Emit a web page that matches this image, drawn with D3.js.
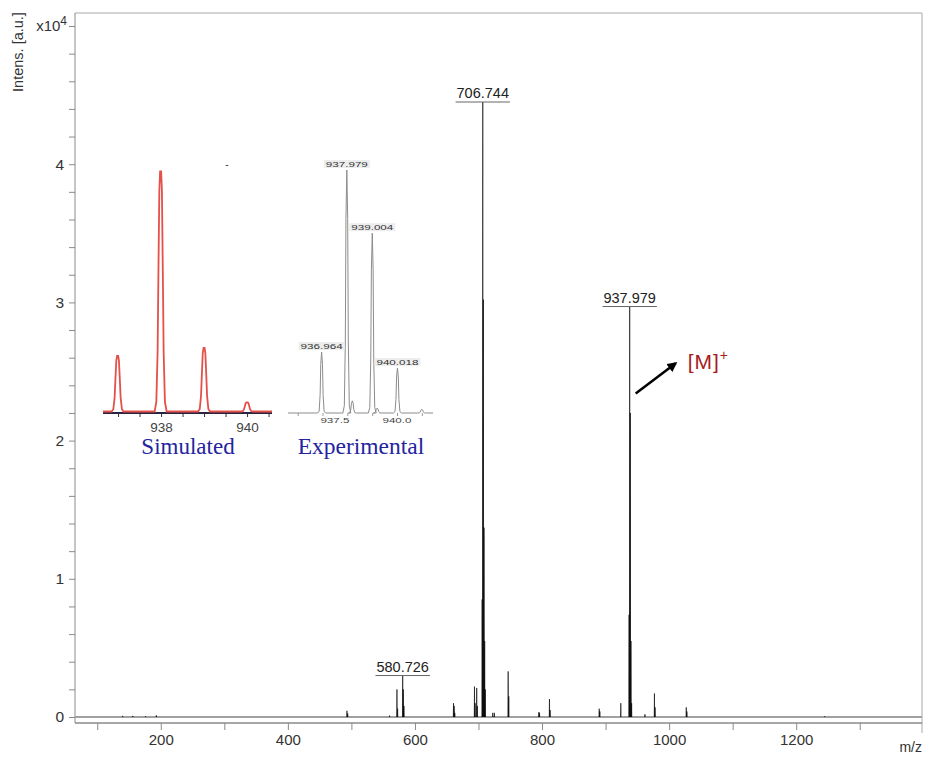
<!DOCTYPE html>
<html>
<head>
<meta charset="utf-8">
<script src="https://cdn.jsdelivr.net/npm/d3@7/dist/d3.min.js"></script>
<style>
  body { margin: 0; background: #fff; }
  svg { font-family: "Liberation Sans", Arial, sans-serif; }
</style>
</head>
<body>
<div id="graph"></div>
<script>
// Espectro principal: m/z e intensidad (x10^4)
var peakMz = [140, 156, 176, 193, 493, 494.2, 560, 571.7, 572.7, 580.726, 581.7, 582.7,
  660.7, 661.7, 662.7, 693.7, 694.7, 697.2, 698.2, 705.74, 706.744, 707.745, 708.75,
  709.75, 710.75, 722.5, 725, 746.7, 747.7, 795, 796, 811.7, 812.7, 890, 891, 924,
  936.964, 937.979, 939.004, 940.018, 941.0, 962, 976.9, 977.9, 1027, 1028, 1245];
var peakIntens = [0.008, 0.008, 0.006, 0.012, 0.045, 0.025, 0.01, 0.2, 0.06, 0.30, 0.2, 0.08,
  0.10, 0.08, 0.03, 0.22, 0.1, 0.21, 0.08, 0.85, 4.45, 3.02, 1.37, 0.55, 0.2, 0.03, 0.03,
  0.33, 0.15, 0.035, 0.03, 0.13, 0.05, 0.06, 0.04, 0.10,
  0.74, 2.97, 2.2, 0.55, 0.1, 0.02, 0.17, 0.07, 0.07, 0.04, 0.005];

// Etiquetas de picos
var labelMz = [580.726, 706.744, 937.979];
var labelText = ["580.726", "706.744", "937.979"];

// Ticks de ejes
var xTickValues = [100, 200, 300, 400, 500, 600, 700, 800, 900, 1000, 1100, 1200, 1300];
var xTickLabels = [200, 400, 600, 800, 1000, 1200];
var yTickLabels = [0, 1, 2, 3, 4];

// Inset simulado (intensidad relativa %)
var simMz = [936.99, 937.99, 939.0, 940.0];
var simIntens = [23.2, 100, 26.5, 3.8];
var simTickLabels = [938, 940];

// Inset experimental (intensidad relativa %)
var expMz = [936.964, 937.979, 938.2, 939.004, 939.2, 940.018, 941.0];
var expIntens = [25.1, 100, 5, 74, 2, 18.5, 1.5];
var expLabelMz = [936.964, 937.979, 939.004, 940.018];
var expLabelText = ["936.964", "937.979", "939.004", "940.018"];
var expTickLabels = ["937.5", "940.0"];

var width = 925, height = 757;
var svg = d3.select("#graph").append("svg")
  .attr("width", width)
  .attr("height", height);

var xScale = d3.scaleLinear().domain([65, 1398]).range([75, 922]);
var yScale = d3.scaleLinear().domain([0, 5.094]).range([717, 13]);

// Marco
svg.append("line").attr("x1", 75).attr("x2", 922).attr("y1", 13).attr("y2", 13)
  .style("stroke", "#a8a8a8");
svg.append("line").attr("x1", 922).attr("x2", 922).attr("y1", 13).attr("y2", 733)
  .style("stroke", "#a8a8a8");
svg.append("line").attr("x1", 75).attr("x2", 75).attr("y1", 13).attr("y2", 723)
  .style("stroke", "#8a8a8a");
svg.append("line").attr("x1", 75).attr("x2", 922).attr("y1", 723).attr("y2", 723)
  .style("stroke", "#8a8a8a").style("stroke-width", 1.5);

// Eje X
var gx = svg.append("g")
  .attr("transform", "translate(0,723)")
  .call(
    d3.axisBottom(xScale)
    .tickValues(xTickValues)
    .tickSize(7)
    .tickSizeOuter(0)
    .tickFormat(function(d){ return xTickLabels.indexOf(d) >= 0 ? d : ""; })
  );
gx.select(".domain").remove();
gx.selectAll(".tick line").style("stroke", "#8a8a8a");
gx.selectAll(".tick text").attr("y", 11).style("font-size", "15px").style("fill", "#333")
  .style("font-family", "'Liberation Sans', Arial, sans-serif");

svg.append("text").attr("x", 922).attr("y", 752).attr("text-anchor", "end")
  .style("font-size", "14px").style("fill", "#333").text("m/z");

// Eje Y
var yTickValues = d3.range(26).map(function(i){ return Math.round(i * 2) / 10; });
var gy = svg.append("g")
  .attr("transform", "translate(75,0)")
  .call(
    d3.axisLeft(yScale)
    .tickValues(yTickValues)
    .tickSize(6)
    .tickSizeOuter(0)
    .tickFormat(function(d){ return yTickLabels.indexOf(d) >= 0 ? d : ""; })
  );
gy.select(".domain").remove();
gy.selectAll(".tick line").style("stroke", "#8a8a8a");
gy.selectAll(".tick text").attr("x", -11).style("font-size", "15.5px").style("fill", "#333")
  .style("font-family", "'Liberation Sans', Arial, sans-serif");

var expo = svg.append("text").attr("x", 67).attr("y", yScale(5) + 5).attr("text-anchor", "end")
  .style("font-size", "15px").style("fill", "#333");
expo.append("tspan").text("x10");
expo.append("tspan").attr("dy", -6).style("font-size", "12px").text("4");

svg.append("text")
  .attr("transform", "translate(23,52) rotate(-90)")
  .attr("text-anchor", "middle")
  .style("font-size", "14.5px").style("fill", "#333")
  .text("Intens. [a.u.]");

// Linea base del espectro
svg.append("line").attr("x1", 75).attr("x2", 922).attr("y1", yScale(0)).attr("y2", yScale(0))
  .style("stroke", "#a0a0a0").style("stroke-width", 2);

// Picos
var halfW = 0.35;
var peakLine = d3.line()
  .x(function(d){ return xScale(d[0]); })
  .y(function(d){ return yScale(d[1]); });

var peaks = peakMz.map(function(m, i){ return {mz: m, h: peakIntens[i]}; });
svg.append("g").selectAll("path")
  .data(peaks)
  .enter().append("path")
  .attr("d", function(d){ return peakLine([[d.mz - halfW, 0], [d.mz, d.h], [d.mz + halfW, 0]]); })
  .style("fill", "#000")
  .style("fill-opacity", 0.6)
  .style("stroke", "#000")
  .style("stroke-opacity", 0.6)
  .style("stroke-width", 1);

// Etiquetas con subrayado
labelMz.forEach(function(m, i){
  var h = peakIntens[peakMz.indexOf(m)];
  var px = xScale(m), py = yScale(h);
  var t = svg.append("text").attr("x", px).attr("y", py - 4)
    .attr("text-anchor", "middle")
    .style("font-size", "14.5px").style("fill", "#222")
    .text(labelText[i]);
  var bb = t.node().getBBox();
  svg.append("line").attr("x1", bb.x - 1).attr("x2", bb.x + bb.width + 1)
    .attr("y1", py).attr("y2", py).style("stroke", "#666");
});

// Anotacion [M]+
var mPeak = 937.979;
var defs = svg.append("defs");
defs.append("marker").attr("id", "arrow")
  .attr("viewBox", "0 0 10 10").attr("refX", 8).attr("refY", 5)
  .attr("markerWidth", 4).attr("markerHeight", 4).attr("orient", "auto")
  .append("path").attr("d", "M0,0 L10,5 L0,10 z").style("fill", "#000");
svg.append("line")
  .attr("x1", xScale(mPeak) + 6).attr("y1", yScale(2.34))
  .attr("x2", xScale(mPeak) + 46).attr("y2", yScale(2.56))
  .style("stroke", "#000").style("stroke-width", 2.5)
  .attr("marker-end", "url(#arrow)");
var mt = svg.append("text").attr("x", xScale(mPeak) + 58).attr("y", yScale(2.56) + 6)
  .style("font-size", "21px").style("fill", "#a51d1d").style("letter-spacing", "1px");
mt.append("tspan").text("[M]");
mt.append("tspan").attr("dy", -9).style("font-size", "14px").text("+");

// ---- Inset simulado ----
var sx = d3.scaleLinear().domain([936.65, 940.58]).range([103, 272]);
var sy = d3.scaleLinear().domain([0, 100]).range([411.5, 171.5]);
var simShape = [[-0.14,0],[-0.1,0.04],[-0.07,0.25],[-0.05,0.6],[-0.03,0.92],[-0.012,1],
  [0.012,1],[0.03,0.92],[0.05,0.6],[0.07,0.25],[0.1,0.04],[0.14,0]];

svg.append("line").attr("x1", 103).attr("x2", 272).attr("y1", 413).attr("y2", 413)
  .style("stroke", "#2a2440").style("stroke-width", 2);
var gs = svg.append("g")
  .attr("transform", "translate(0,414)")
  .call(
    d3.axisBottom(sx)
    .tickValues([937, 937.5, 938, 938.5, 939, 939.5, 940, 940.5])
    .tickSize(3)
    .tickSizeOuter(0)
    .tickFormat(function(d){ return simTickLabels.indexOf(d) >= 0 ? d : ""; })
  );
gs.select(".domain").remove();
gs.selectAll(".tick line").style("stroke", "#333");
gs.selectAll(".tick text").attr("y", 8).style("font-size", "13.5px").style("fill", "#444")
  .style("font-family", "'Liberation Sans', Arial, sans-serif");

var simPts = [[sx.domain()[0], 0]];
simMz.forEach(function(m, i){
  simShape.forEach(function(s){ simPts.push([m + s[0], s[1] * simIntens[i]]); });
});
simPts.push([sx.domain()[1], 0]);
svg.append("path")
  .datum(simPts)
  .attr("d", d3.line().x(function(d){ return sx(d[0]); }).y(function(d){ return sy(d[1]); }))
  .style("fill", "none")
  .style("stroke", "#e4504a")
  .style("stroke-width", 1.8);

svg.append("text").attr("x", 227).attr("y", 168).attr("text-anchor", "middle")
  .style("font-size", "10px").style("fill", "#333").text("-");

svg.append("text").attr("x", 188).attr("y", 454).attr("text-anchor", "middle")
  .style("font-family", "'Liberation Serif', 'Times New Roman', serif")
  .style("font-size", "23px").style("fill", "#2424a0")
  .text("Simulated");

// ---- Inset experimental ----
var ex = d3.scaleLinear().domain([935.61, 941.45]).range([288, 433]);
var ey = d3.scaleLinear().domain([0, 100]).range([413, 170]);
var expShape = [[-0.16,0],[-0.1,0.03],[-0.06,0.3],[-0.035,0.8],[0,1],
  [0.035,0.8],[0.06,0.3],[0.1,0.03],[0.16,0]];

var ge = svg.append("g")
  .attr("transform", "translate(0,413)")
  .call(
    d3.axisBottom(ex)
    .tickValues([936, 937, 938, 939, 940, 941])
    .tickSize(3)
    .tickSizeOuter(0)
    .tickFormat("")
  );
ge.select(".domain").remove();
ge.selectAll(".tick line").style("stroke", "#999");

var expPts = [[ex.domain()[0], 0]];
expMz.forEach(function(m, i){
  expShape.forEach(function(s){ expPts.push([m + s[0], s[1] * expIntens[i]]); });
});
expPts.push([ex.domain()[1], 0]);
svg.append("path")
  .datum(expPts)
  .attr("d", d3.line().x(function(d){ return ex(d[0]); }).y(function(d){ return ey(d[1]); }))
  .style("fill", "none")
  .style("stroke", "#8c8c8c")
  .style("stroke-width", 1);

[937.5, 940.0].forEach(function(v, i){
  svg.append("text").attr("x", ex(v)).attr("y", 423).attr("text-anchor", "middle")
    .attr("textLength", 29).attr("lengthAdjust", "spacingAndGlyphs")
    .style("font-size", "8px").style("fill", "#444")
    .text(expTickLabels[i]);
});

expLabelMz.forEach(function(m, i){
  var h = expIntens[expMz.indexOf(m)];
  var px = ex(m), py = ey(h);
  svg.append("rect").attr("x", px - 23).attr("y", py - 10).attr("width", 46).attr("height", 8)
    .style("fill", "#ededed");
  svg.append("text").attr("x", px).attr("y", py - 3.5).attr("text-anchor", "middle")
    .attr("textLength", 42).attr("lengthAdjust", "spacingAndGlyphs")
    .style("font-size", "8px").style("fill", "#333")
    .text(expLabelText[i]);
});

svg.append("text").attr("x", 361).attr("y", 454).attr("text-anchor", "middle")
  .style("font-family", "'Liberation Serif', 'Times New Roman', serif")
  .style("font-size", "23.5px").style("fill", "#2424a0")
  .text("Experimental");
</script>
</body>
</html>
